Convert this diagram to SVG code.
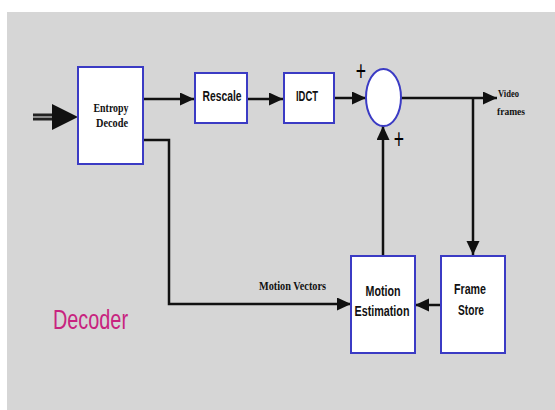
<svg xmlns="http://www.w3.org/2000/svg" width="555" height="410" viewBox="0 0 555 410">
<defs>
<style>
.box{fill:#fff;stroke:#3b3bc4;stroke-width:2}
.ln{fill:none;stroke:#111;stroke-width:2.5}
.sans{font-family:"Liberation Sans",Arial,sans-serif;font-weight:bold;font-size:15px;fill:#111;text-anchor:middle}
.serif{font-family:"Liberation Serif","Times New Roman",serif;font-weight:bold;fill:#111}
.plus{font-family:"Liberation Sans",Arial,sans-serif;font-size:22px;fill:#000;text-anchor:middle}
</style>
<marker id="ah" markerUnits="userSpaceOnUse" markerWidth="16" markerHeight="14" refX="14" refY="6.5" orient="auto">
<path d="M0,0 L14,6.5 L0,13 Z" fill="#111"/>
</marker>
</defs>
<rect x="0" y="0" width="555" height="410" fill="#fff"/>
<rect x="7" y="12" width="548" height="398" fill="#d6d6d6"/>

<g id="connectors">
<line x1="33" y1="117" x2="58" y2="117" stroke="#222" stroke-width="7"/>
<line x1="33" y1="117" x2="58" y2="117" stroke="#8a8a8a" stroke-width="2"/>
<path d="M52,104 L78,117 L52,130 Z" fill="#111"/>
<line class="ln" x1="143" y1="99" x2="194" y2="99" marker-end="url(#ah)"/>
<line class="ln" x1="247" y1="99" x2="283" y2="99" marker-end="url(#ah)"/>
<line class="ln" x1="335" y1="98" x2="366" y2="98" marker-end="url(#ah)"/>
<line class="ln" x1="401" y1="98" x2="497" y2="98" marker-end="url(#ah)"/>
<line class="ln" x1="473" y1="98" x2="473" y2="255" marker-end="url(#ah)"/>
<line class="ln" x1="441" y1="305" x2="415" y2="305" marker-end="url(#ah)"/>
<line class="ln" x1="383" y1="256" x2="383" y2="126" marker-end="url(#ah)"/>
<polyline class="ln" points="143,140 169,140 169,304 351,304" marker-end="url(#ah)"/>
</g>

<g id="entropy-decode">
<rect class="box" x="78" y="67" width="65" height="97"/>
<text class="serif" x="111" y="112" font-size="13" text-anchor="middle" textLength="35" lengthAdjust="spacingAndGlyphs">Entropy</text>
<text class="serif" x="112" y="127" font-size="13" text-anchor="middle" textLength="32" lengthAdjust="spacingAndGlyphs">Decode</text>
</g>

<g id="rescale">
<rect class="box" x="195" y="73" width="52" height="50"/>
<text class="sans" x="222" y="101" textLength="39" lengthAdjust="spacingAndGlyphs">Rescale</text>
</g>

<g id="idct">
<rect class="box" x="284" y="73" width="50" height="50"/>
<text class="sans" x="307" y="101" textLength="22" lengthAdjust="spacingAndGlyphs">IDCT</text>
</g>

<g id="adder">
<ellipse cx="383.5" cy="97.5" rx="17.5" ry="28.5" fill="#fff" stroke="#3b3bc4" stroke-width="2"/>
<text class="plus" transform="translate(361,80) scale(0.8,1.25)" x="0" y="0">+</text>
<text class="plus" transform="translate(399,148) scale(0.8,1.25)" x="0" y="0">+</text>
</g>

<g id="video-frames">
<text class="serif" x="498" y="97" font-size="11" textLength="21" lengthAdjust="spacingAndGlyphs">Video</text>
<text class="serif" x="497" y="115" font-size="11" textLength="28" lengthAdjust="spacingAndGlyphs">frames</text>
</g>

<g id="motion-estimation">
<rect class="box" x="351" y="256" width="64" height="97"/>
<text class="sans" x="383" y="296" textLength="35" lengthAdjust="spacingAndGlyphs">Motion</text>
<text class="sans" x="382" y="316" textLength="55" lengthAdjust="spacingAndGlyphs">Estimation</text>
</g>

<g id="frame-store">
<rect class="box" x="441" y="256" width="64" height="97"/>
<text class="sans" x="470" y="294" textLength="32" lengthAdjust="spacingAndGlyphs">Frame</text>
<text class="sans" x="471" y="315" textLength="26" lengthAdjust="spacingAndGlyphs">Store</text>
</g>

<g id="motion-vectors-label">
<text class="serif" x="259" y="290" font-size="12" textLength="67" lengthAdjust="spacingAndGlyphs">Motion Vectors</text>
</g>

<g id="decoder-label">
<text x="53" y="329" font-family="'Liberation Sans',Arial,sans-serif" font-size="28" fill="#c8247f" textLength="75" lengthAdjust="spacingAndGlyphs">Decoder</text>
</g>
</svg>
